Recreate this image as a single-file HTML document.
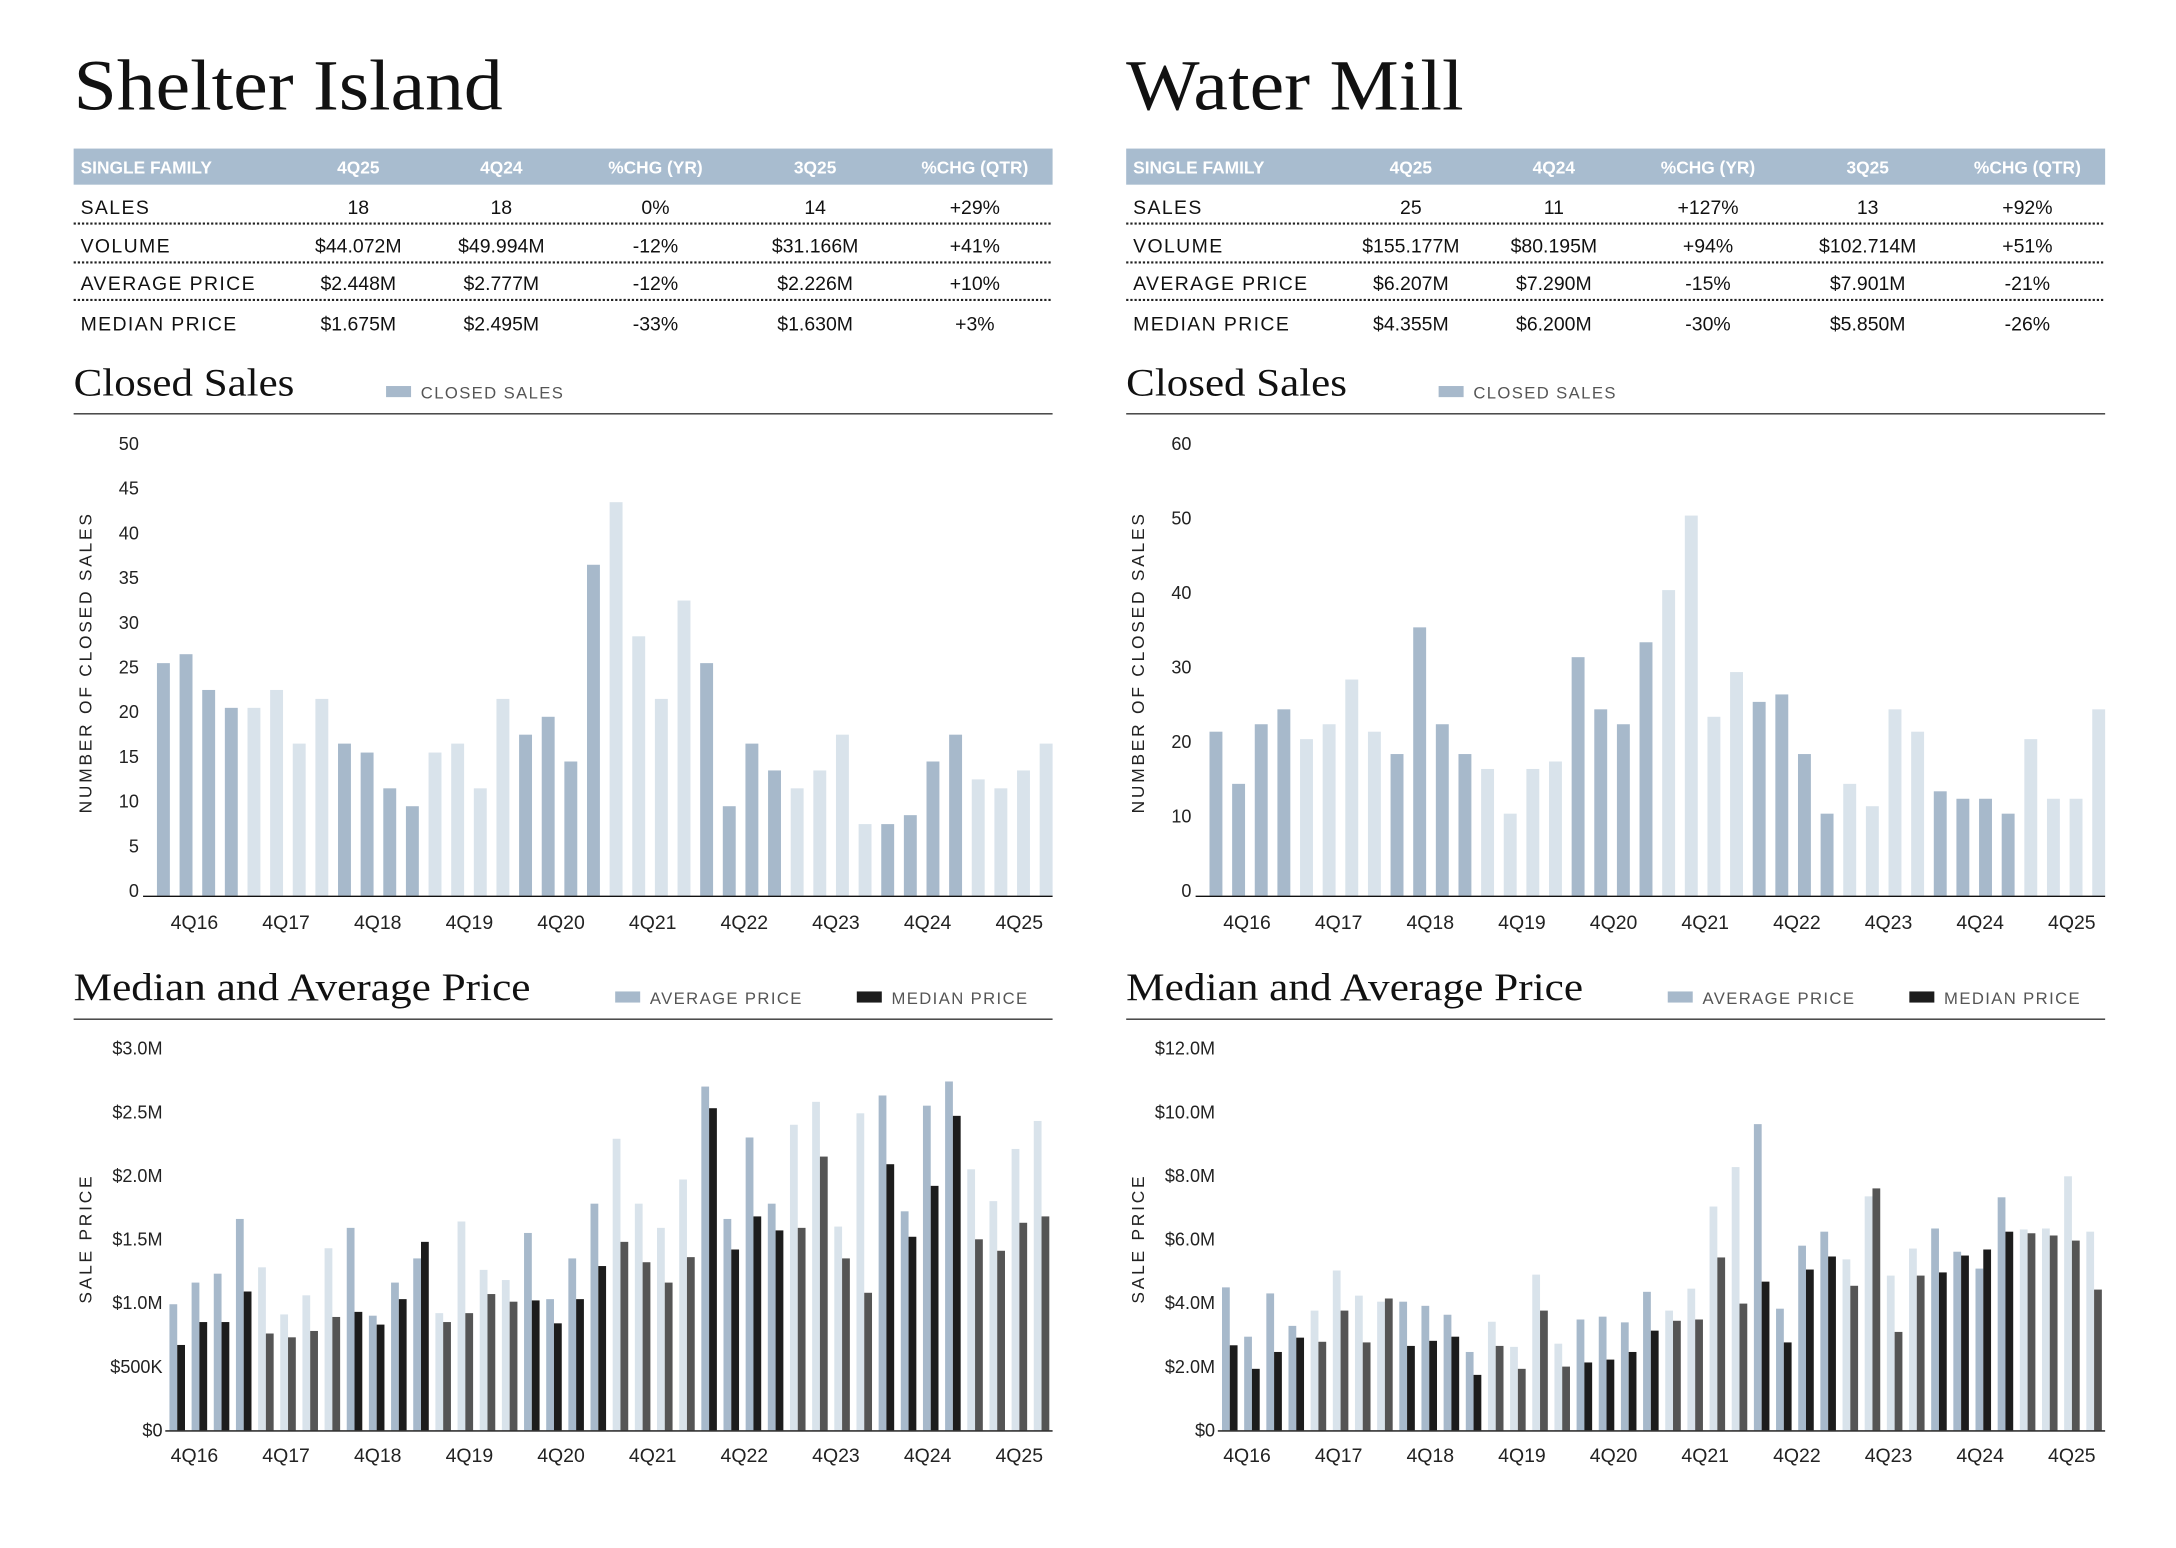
<!DOCTYPE html>
<html><head><meta charset="utf-8">
<style>
html,body{margin:0;padding:0;background:#fff;width:2176px;height:1548px;overflow:hidden}
svg{display:block}
text{font-family:"Liberation Sans",sans-serif}
.ser{font-family:"Liberation Serif",serif}
</style></head>
<body>
<svg id="page" width="2176" height="1548" viewBox="0 0 1567 1114.8" xmlns="http://www.w3.org/2000/svg"></svg>
<script>
// ---- data ----
const quarterLabels = ["4Q16","4Q17","4Q18","4Q19","4Q20","4Q21","4Q22","4Q23","4Q24","4Q25"];
const tableHeaders = ["SINGLE FAMILY","4Q25","4Q24","%CHG (YR)","3Q25","%CHG (QTR)"];
const tableRowNames = ["SALES","VOLUME","AVERAGE PRICE","MEDIAN PRICE"];
const shelterTable = [["18","18","0%","14","+29%"],["$44.072M","$49.994M","-12%","$31.166M","+41%"],["$2.448M","$2.777M","-12%","$2.226M","+10%"],["$1.675M","$2.495M","-33%","$1.630M","+3%"]];
const waterTable = [["25","11","+127%","13","+92%"],["$155.177M","$80.195M","+94%","$102.714M","+51%"],["$6.207M","$7.290M","-15%","$7.901M","-21%"],["$4.355M","$6.200M","-30%","$5.850M","-26%"]];

const shelterSales = [26,27,23,21,21,23,17,22,17,16,12,10,16,17,12,22,18,20,15,37,44,29,22,33,26,10,17,14,12,14,18,8,8,9,15,18,13,12,14,17];
const waterSales = [22,15,23,25,21,23,29,22,19,36,23,19,17,11,17,18,32,25,23,34,41,51,24,30,26,27,19,11,15,12,25,22,14,13,13,11,21,13,13,25];
const shelterSalesTicks = [0,5,10,15,20,25,30,35,40,45,50];
const waterSalesTicks = [0,10,20,30,40,50,60];

const shelterAvg = [0.99,1.16,1.23,1.66,1.28,0.91,1.06,1.43,1.59,0.90,1.16,1.35,0.92,1.64,1.26,1.18,1.55,1.03,1.35,1.78,2.29,1.78,1.59,1.97,2.70,1.66,2.30,1.78,2.40,2.58,1.60,2.49,2.63,1.72,2.55,2.74,2.05,1.80,2.21,2.43];
const shelterMed = [0.67,0.85,0.85,1.09,0.76,0.73,0.78,0.89,0.93,0.83,1.03,1.48,0.85,0.92,1.07,1.01,1.02,0.84,1.03,1.29,1.48,1.32,1.16,1.36,2.53,1.42,1.68,1.57,1.59,2.15,1.35,1.08,2.09,1.52,1.92,2.47,1.50,1.41,1.63,1.68];
const waterAvg = [4.49,2.94,4.30,3.28,3.76,5.02,4.23,4.04,4.04,3.91,3.63,2.46,3.41,2.62,4.89,2.72,3.48,3.57,3.39,4.35,3.76,4.45,7.03,8.27,9.62,3.82,5.80,6.24,5.37,7.35,4.86,5.71,6.34,5.61,5.08,7.32,6.31,6.34,7.98,6.24];
const waterMed = [2.67,1.93,2.46,2.91,2.78,3.76,2.76,4.14,2.65,2.81,2.94,1.74,2.65,1.93,3.76,2.00,2.13,2.22,2.46,3.13,3.44,3.48,5.43,3.98,4.67,2.76,5.05,5.46,4.54,7.60,3.09,4.86,4.96,5.49,5.68,6.24,6.19,6.12,5.96,4.42];
const shelterPriceTicks = [0,0.5,1.0,1.5,2.0,2.5,3.0];
const shelterPriceTickLabels = ["$0","$500K","$1.0M","$1.5M","$2.0M","$2.5M","$3.0M"];
const waterPriceTicks = [0,2,4,6,8,10,12];
const waterPriceTickLabels = ["$0","$2.0M","$4.0M","$6.0M","$8.0M","$10.0M","$12.0M"];

const DARK="#a7b9cb", LIGHT="#d9e3eb", MED1="#1c1c1c", MED2="#555555";
const NS="http://www.w3.org/2000/svg";
const svg=document.getElementById('page');
function el(tag,attrs,parent){const e=document.createElementNS(NS,tag);for(const k in attrs)e.setAttribute(k,attrs[k]);(parent||svg).appendChild(e);return e;}
function txt(s,attrs,parent){const e=el('text',attrs,parent);e.textContent=s;return e;}

function panel(ox,title,titleLen,tdata,sales,sTicks,sMax,avg,med,pTicks,pLabels,pMax){
  const g=el('g',{transform:`translate(${ox},0)`});
  
  
  let t=txt(title,{class:'ser',x:53,y:79,'font-size':52,fill:'#111',textLength:titleLen,lengthAdjust:'spacingAndGlyphs'},g);
  
  
  const tb=el('g',{},g);
  
  
  let hb=el('rect',{x:53,y:107,width:705,height:26,fill:'#a8bccf'},tb);
  
  
  const cols=[258,361,472,587,702];
  txt(tableHeaders[0],{x:58,y:125,'font-size':12.5,'font-weight':'bold',fill:'#fff'},tb);
  for(let c=0;c<5;c++) txt(tableHeaders[c+1],{x:cols[c],y:125,'font-size':12.5,'font-weight':'bold',fill:'#fff','text-anchor':'middle'},tb);
  const rowY=[154,182,209,238];
  for(let r=0;r<4;r++){
    const rn=txt(tableRowNames[r],{x:58,y:rowY[r],'font-size':14,fill:'#111','letter-spacing':1},tb);
    
    
    for(let c=0;c<5;c++) txt(tdata[r][c],{x:cols[c],y:rowY[r],'font-size':14,fill:'#111','text-anchor':'middle'},tb);
    if(r<3) el('line',{x1:53,x2:758,y1:rowY[r]+7,y2:rowY[r]+7,stroke:'#222','stroke-width':1.6,'stroke-dasharray':'1.6 1.4'},tb);
  }
  const cs=el('g',{},g);
  
  
  txt('Closed Sales',{class:'ser',x:53,y:285,'font-size':28,fill:'#111',textLength:159,lengthAdjust:'spacingAndGlyphs'},cs);
  let lg=el('rect',{x:278,y:278,width:18,height:8,fill:DARK},cs);
  
  
  txt('CLOSED SALES',{x:303,y:287,'font-size':12,fill:'#555','letter-spacing':1},cs);
  el('line',{x1:53,x2:758,y1:298,y2:298,stroke:'#333','stroke-width':1},cs);
  const yS=v=>645-v*(322/sMax);
  const xS=i=>113+i*16.3;
  const yt=txt('NUMBER OF CLOSED SALES',{x:0,y:0,'font-size':12.5,fill:'#222','letter-spacing':2,'text-anchor':'middle',transform:'translate(66,477) rotate(-90)'},cs);
  
  
  sTicks.forEach(v=>{const tl=txt(String(v),{x:100,y:yS(v)+1,'font-size':13,fill:'#222','text-anchor':'end'},cs);
    
    });
  sales.forEach((v,i)=>{const b=el('rect',{x:xS(i),y:yS(v),width:9.3,height:645-yS(v),fill:(Math.floor(i/4)%2===0)?DARK:LIGHT},cs);
    
    });
  el('line',{x1:103,x2:758,y1:645.5,y2:645.5,stroke:'#111','stroke-width':1},cs);
  quarterLabels.forEach((q,i)=>{const xl=txt(q,{x:140+66*i,y:669,'font-size':14,fill:'#222','text-anchor':'middle'},cs);
    
    });
  const pc=el('g',{},g);
  
  
  txt('Median and Average Price',{class:'ser',x:53,y:720,'font-size':28,fill:'#111',textLength:329,lengthAdjust:'spacingAndGlyphs'},pc);
  let la=el('rect',{x:443,y:714,width:18,height:8,fill:DARK},pc);
  
  
  txt('AVERAGE PRICE',{x:468,y:723,'font-size':12,fill:'#555','letter-spacing':1},pc);
  let lm=el('rect',{x:617,y:714,width:18,height:8,fill:MED1},pc);
  
  
  txt('MEDIAN PRICE',{x:642,y:723,'font-size':12,fill:'#555','letter-spacing':1},pc);
  el('line',{x1:53,x2:758,y1:734,y2:734,stroke:'#333','stroke-width':1},pc);
  const yP=v=>1030-v*(275/pMax);
  const xP=i=>122+i*15.96;
  const pt=txt('SALE PRICE',{x:0,y:0,'font-size':12.5,fill:'#222','letter-spacing':2,'text-anchor':'middle',transform:'translate(66,892) rotate(-90)'},pc);
  
  
  pTicks.forEach((v,k)=>{const tl=txt(pLabels[k],{x:117,y:yP(v)+4.5,'font-size':13,fill:'#222','text-anchor':'end'},pc);
    
    });
  avg.forEach((v,i)=>{const dk=Math.floor(i/4)%2===0;
    const a=el('rect',{x:xP(i),y:yP(v),width:5.6,height:1030-yP(v),fill:dk?DARK:LIGHT},pc);
    
    
    const m=el('rect',{x:xP(i)+5.6,y:yP(med[i]),width:5.6,height:1030-yP(med[i]),fill:dk?MED1:MED2},pc);
    
    });
  el('line',{x1:119,x2:758,y1:1030.5,y2:1030.5,stroke:'#111','stroke-width':1},pc);
  quarterLabels.forEach((q,i)=>{const xl=txt(q,{x:140+66*i,y:1053,'font-size':14,fill:'#222','text-anchor':'middle'},pc);
    
    });
}
panel(0,'Shelter Island',309,shelterTable,shelterSales,shelterSalesTicks,50,shelterAvg,shelterMed,shelterPriceTicks,shelterPriceTickLabels,3);
panel(758,'Water Mill',243,waterTable,waterSales,waterSalesTicks,60,waterAvg,waterMed,waterPriceTicks,waterPriceTickLabels,12);
</script>
</body></html>
